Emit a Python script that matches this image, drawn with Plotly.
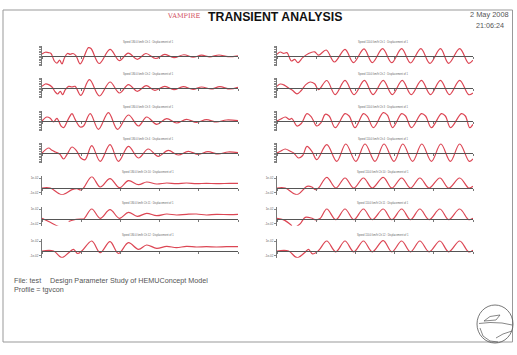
import plotly.graph_objects as go

# ---------------- data ----------------
L1_T = [0, 0.17, 0.34, 0.46, 0.63, 0.76, 0.9, 1.02, 1.15, 1.3, 1.44, 1.58, 1.73, 1.95, 2.37, 2.5, 2.92, 3.47, 3.95, 4.4, 4.86, 5.3, 5.8, 6.27, 6.73, 7.24, 7.71, 8.14, 8.56, 9.03, 9.49, 10]
L1_Y = [0.25, 0.45, 0.4, 0.3, -0.6, -0.85, -0.5, -0.95, -0.2, 0.3, 0.2, 0.3, 0.05, -0.95, 1.0, 0.9, -0.9, 0.8, -0.55, 0.35, -0.4, 0.3, -0.3, 0.2, -0.2, 0.15, -0.15, 0.1, -0.1, 0.12, -0.08, 0.02]

L2_T = [0, 0.17, 0.34, 0.51, 0.68, 0.8, 0.93, 1.05, 1.19, 1.36, 1.53, 1.69, 1.98, 2.42, 2.93, 3.47, 3.95, 4.41, 4.86, 5.31, 5.76, 6.27, 6.73, 7.2, 7.71, 8.14, 8.64, 9.07, 9.58, 10]
L2_Y = [0.2, 0.48, 0.4, 0.12, -0.48, -0.72, -0.4, -0.8, -0.2, 0.2, 0.12, 0.2, -0.88, 1.0, -0.96, 0.72, -0.6, 0.4, -0.4, 0.28, -0.28, 0.2, -0.2, 0.16, -0.16, 0.12, -0.12, 0.16, -0.12, 0.08]

L3_T = [0, 0.25, 0.42, 0.59, 0.76, 0.97, 1.1, 1.36, 1.53, 1.69, 1.95, 2.12, 2.46, 2.88, 3.39, 3.85, 4.41, 4.92, 5.34, 5.85, 6.36, 6.86, 7.37, 7.88, 8.39, 8.9, 9.41, 10]
L3_Y = [0, 0.48, 0.32, -0.12, 0.32, -0.6, -0.8, 0.32, 0.88, 0.2, -0.72, -0.6, 0.88, -1.0, 1.0, -1.0, 0.72, -0.6, 0.48, -0.4, 0.28, -0.24, 0.2, -0.16, 0.16, -0.12, 0.12, 0.04]

L4_T = [0, 0.34, 0.51, 0.68, 0.9, 1.1, 1.27, 1.53, 1.78, 1.98, 2.2, 2.54, 2.97, 3.47, 3.9, 4.41, 4.92, 5.42, 5.93, 6.44, 6.95, 7.46, 7.97, 8.47, 8.98, 9.49, 10]
L4_Y = [0, 0.6, 0.32, 0.12, -0.12, -0.72, -0.2, 0.72, 0.2, -0.6, -0.8, 0.88, -1.0, 1.0, -1.0, 0.8, -0.6, 0.48, -0.4, 0.32, -0.24, 0.2, -0.16, 0.16, -0.12, 0.12, 0.04]

L5_T = [0, 0.42, 1.02, 1.53, 1.78, 1.98, 2.12, 2.54, 2.97, 3.47, 3.95, 4.41, 4.92, 5.34, 5.85, 6.36, 6.86, 7.37, 7.88, 8.39, 8.9, 9.58, 10]
L5_Y = [0, 0, -0.8, -0.2, -0.08, -0.24, 0, 1.35, 0.12, 1.12, 0.04, 0.88, 0.4, 0.72, 0.48, 0.6, 0.52, 0.6, 0.52, 0.56, 0.52, 0.56, 0.56]

L6_T = [0, 0.42, 0.85, 1.02, 1.2, 1.36, 1.61, 1.95, 2.12, 2.54, 2.97, 3.47, 3.95, 4.41, 4.86, 5.34, 5.85, 6.36, 6.86, 7.37, 7.88, 8.39, 8.9, 9.58, 10]
L6_Y = [0.08, -0.4, -0.9, -1.0, None, -0.3, -0.1, 0, 0, 1.2, 0.08, 1.12, 0.08, 0.8, 0.32, 0.68, 0.4, 0.6, 0.48, 0.56, 0.6, 0.48, 0.56, 0.52, 0.56]

L7_T = [0, 0.59, 1.02, 1.36, 1.61, 1.81, 2.03, 2.54, 2.97, 3.47, 3.9, 4.41, 4.92, 5.34, 5.85, 6.36, 6.86, 7.37, 7.88, 8.39, 8.9, 9.41, 10]
L7_Y = [0, 0, -0.8, -0.2, 0.2, -0.3, 0, 1.2, -0.2, 1.12, -0.3, 1.0, 0.2, 0.72, 0.32, 0.56, 0.4, 0.56, 0.48, 0.52, 0.48, 0.52, 0.52]

R1_T = [0, 0.17, 0.34, 0.51, 0.73, 0.9, 1.07, 1.31, 1.61, 1.92, 2.12, 2.51, 2.93, 3.47, 3.9, 4.44, 4.86, 5.39, 5.85, 6.36, 6.81, 7.34, 7.8, 8.34, 8.76, 9.32, 9.78, 10]
R1_Y = [0.2, 0.48, 0.32, 0.4, -0.6, -0.4, -0.8, -0.2, 0.3, 0.5, 0.1, 0.72, -0.72, 0.8, -0.8, 0.85, -0.8, 0.88, -0.8, 0.88, -0.84, 0.88, -0.88, 0.88, -0.88, 0.88, -0.88, -0.5]

R2_T = [0, 0.17, 0.39, 0.59, 0.8, 1.02, 1.24, 1.47, 1.69, 1.92, 2.12, 2.54, 2.97, 3.47, 3.93, 4.46, 4.9, 5.42, 5.88, 6.39, 6.85, 7.37, 7.83, 8.34, 8.8, 9.32, 9.78, 10]
R2_Y = [0.2, 0.48, 0.32, 0.0, -0.3, -0.7, -0.3, 0.4, 0.72, 0.5, -0.2, 0.9, -0.8, 0.92, -0.8, 0.92, -0.8, 0.92, -0.8, 0.92, -0.8, 0.92, -0.8, 0.92, -0.8, 0.92, -0.8, -0.6]

R3_T = [0, 0.17, 0.42, 0.63, 0.76, 1.02, 1.24, 1.53, 1.75, 2.03, 2.25, 2.46, 2.66, 2.97, 3.47, 3.68, 3.98, 4.41, 4.61, 4.92, 5.42, 5.63, 5.9, 6.36, 6.56, 6.86, 7.37, 7.58, 7.88, 8.39, 8.59, 8.86, 9.41, 9.61, 9.83, 10]
R3_Y = [0, 0.2, 0.48, 0.2, 0.3, -0.6, -0.3, 0.88, 0.5, -0.6, -0.2, 0.8, 0.6, -0.8, 0.88, 0.6, -0.8, 0.88, 0.55, -0.8, 1.0, 0.7, -0.8, 0.88, 0.6, -0.8, 0.88, 0.6, -0.8, 0.88, 0.6, -0.8, 0.88, 0.6, -0.8, -0.4]

R4_T = [0, 0.17, 0.42, 0.68, 0.85, 1.1, 1.31, 1.53, 1.78, 2.03, 2.54, 3.05, 3.51, 4.02, 4.49, 5.0, 5.46, 5.97, 6.42, 6.92, 7.39, 7.88, 8.36, 8.85, 9.32, 9.81, 10]
R4_Y = [0, 0.2, 0.48, 0.2, 0.0, -0.6, -0.3, 0.8, 0.2, -0.8, 1.0, -1.0, 1.08, -1.0, 1.08, -1.0, 1.08, -1.0, 1.08, -1.0, 1.08, -1.0, 1.08, -1.0, 1.08, -1.0, -0.7]

R5_T = [0, 0.42, 1.02, 1.53, 1.78, 1.95, 2.12, 2.54, 3.0, 3.47, 3.92, 4.41, 4.86, 5.42, 5.86, 6.36, 6.81, 7.29, 7.76, 8.31, 8.76, 9.32, 9.78, 10]
R5_Y = [0, 0, -0.8, 0.2, 0.12, -0.2, 0, 1.28, 0, 1.2, 0, 1.2, 0, 1.28, 0, 1.2, 0, 1.2, 0, 1.2, 0, 1.2, 0, 0.2]

R6_T = [0, 0.34, 0.76, 0.86, 0.97, 1.19, 1.44, 1.75, 1.98, 2.2, 2.54, 3.0, 3.47, 3.92, 4.41, 4.86, 5.42, 5.86, 6.36, 6.81, 7.29, 7.76, 8.31, 8.76, 9.32, 9.78, 10]
R6_Y = [0.08, -0.1, -0.8, None, -0.95, -0.55, 0.2, 0.12, -0.1, 0.05, 1.2, -0.08, 1.2, -0.08, 1.2, -0.08, 1.2, -0.08, 1.2, -0.08, 1.2, -0.08, 1.2, -0.08, 1.2, -0.08, 0.1]

R7_T = [0, 0.59, 1.02, 1.41, 1.61, 1.81, 2.12, 2.54, 3.0, 3.47, 3.92, 4.41, 4.86, 5.42, 5.86, 6.36, 6.81, 7.29, 7.76, 8.31, 8.76, 9.32, 9.78, 10]
R7_Y = [0, 0, -0.8, -0.2, 0.2, -0.35, 0.05, 1.2, -0.1, 1.2, -0.1, 1.2, -0.1, 1.25, -0.1, 1.2, -0.1, 1.2, -0.1, 1.2, -0.1, 1.2, -0.1, 0.1]

LEFT_TITLES = ["Speed 180.0 km/h Ch 1 : Displacement of 1",
               "Speed 180.0 km/h Ch 2 : Displacement of 1",
               "Speed 180.0 km/h Ch 3 : Displacement of 1",
               "Speed 180.0 km/h Ch 4 : Displacement of 1",
               "Speed 180.0 km/h Ch 10 : Displacement of 1",
               "Speed 180.0 km/h Ch 11 : Displacement of 1",
               "Speed 180.0 km/h Ch 12 : Displacement of 1"]
RIGHT_TITLES = ["Speed 110.0 km/h Ch 1 : Displacement of 1",
                "Speed 110.0 km/h Ch 2 : Displacement of 1",
                "Speed 110.0 km/h Ch 3 : Displacement of 1",
                "Speed 110.0 km/h Ch 4 : Displacement of 1",
                "Speed 110.0 km/h Ch 10 : Displacement of 1",
                "Speed 110.0 km/h Ch 11 : Displacement of 1",
                "Speed 110.0 km/h Ch 12 : Displacement of 1"]

# ---------------- layout helpers ----------------
W, H = 517, 355
FONT = "Liberation Sans, Arial, sans-serif"
RED = "#dc4654"


def pxx(x):
    return x / W


def pxy(y):
    return 1 - y / H


series = [
    [(L1_T, L1_Y), (L2_T, L2_Y), (L3_T, L3_Y), (L4_T, L4_Y), (L5_T, L5_Y), (L6_T, L6_Y), (L7_T, L7_Y)],
    [(R1_T, R1_Y), (R2_T, R2_Y), (R3_T, R3_Y), (R4_T, R4_Y), (R5_T, R5_Y), (R6_T, R6_Y), (R7_T, R7_Y)],
]
titles = [LEFT_TITLES, RIGHT_TITLES]
row_centers = [56, 88, 121, 153, 188, 219, 251]
col_px = [(42, 238), (277, 473)]
SCALE = 8.33

fig = go.Figure()
layout = dict(width=W, height=H, margin=dict(l=0, r=0, t=0, b=0),
              paper_bgcolor="white", plot_bgcolor="white", showlegend=False,
              font=dict(family=FONT))
annotations = []
k = 0
for c in range(2):
    for r in range(7):
        k += 1
        xa = "x" if k == 1 else f"x{k}"
        ya = "y" if k == 1 else f"y{k}"
        cy = row_centers[r]
        if r < 4:
            ylo, yhi = -1.2, 1.2
        else:
            ylo, yhi = -0.8, 1.4
        top_px = cy - yhi * SCALE
        bot_px = cy - ylo * SCALE
        x0, x1 = col_px[c]
        layout["xaxis" if k == 1 else f"xaxis{k}"] = dict(
            domain=[pxx(x0), pxx(x1)], range=[0, 10], anchor="free", position=pxy(cy),
            showline=True, linecolor="#555", linewidth=0.8, ticks="outside", ticklen=2,
            tickcolor="#777", tickwidth=0.8, dtick=2, showticklabels=False,
            showgrid=False, zeroline=False, fixedrange=True)
        ycfg = dict(domain=[pxy(bot_px), pxy(top_px)], range=[ylo, yhi], anchor=xa,
                    showline=True, linecolor="#777", linewidth=1, ticks="outside",
                    ticklen=2, tickcolor="#888", tickwidth=0.6, showgrid=False,
                    zeroline=False, fixedrange=True)
        if r < 4:
            ycfg.update(dtick=0.2, showticklabels=False)
        else:
            ycfg.update(tickvals=[-0.6, 1.2], ticktext=["-1e-02", "1e-02"],
                        showticklabels=True, tickfont=dict(size=3, color="#666"))
        layout["yaxis" if k == 1 else f"yaxis{k}"] = ycfg
        t, y = series[c][r]
        fig.add_trace(go.Scatter(x=t, y=y, xaxis=xa, yaxis=ya, mode="lines",
                                 line=dict(color=RED, width=1.2, shape="spline", smoothing=1),
                                 connectgaps=False, hoverinfo="skip"))
        annotations.append(dict(xref="paper", yref="paper", x=pxx((x0 + x1) / 2 + 8),
                                y=pxy(top_px - 0.5), xanchor="center", yanchor="bottom",
                                text=titles[c][r], showarrow=False,
                                font=dict(size=2.6, color="#666")))

# header / footer texts
annotations += [
    dict(x=pxx(183), y=pxy(16), text="VAMPIRE", xanchor="center", yanchor="middle",
         font=dict(size=6.5, color="#d04a5a", family="DejaVu Serif")),
    dict(x=pxx(275), y=pxy(16.5), text="<b>TRANSIENT ANALYSIS</b>", xanchor="center",
         yanchor="middle", font=dict(size=12.3, color="#111")),
    dict(x=pxx(511), y=pxy(15), text="2 May 2008", xanchor="right", yanchor="middle",
         font=dict(size=7.4, color="#555")),
    dict(x=pxx(505.5), y=pxy(25), text="21:06:24", xanchor="right", yanchor="middle",
         font=dict(size=7.2, color="#555")),
    dict(x=pxx(12), y=pxy(280), text="File: test", xanchor="left", yanchor="middle",
         font=dict(size=7.2, color="#555")),
    dict(x=pxx(48), y=pxy(280), text="Design Parameter Study of HEMUConcept Model",
         xanchor="left", yanchor="middle", font=dict(size=7.2, color="#555")),
    dict(x=pxx(12), y=pxy(289.5), text="Profile = tgvcon", xanchor="left",
         yanchor="middle", font=dict(size=7.2, color="#555")),
]
for a in annotations[-7:]:
    a.update(xref="paper", yref="paper", showarrow=False)
layout["annotations"] = annotations


def path(pts, close=False):
    s = "M " + " L ".join(f"{pxx(x):.5f},{pxy(y):.5f}" for x, y in pts)
    return s + (" Z" if close else "")


shapes = [
    dict(type="rect", xref="paper", yref="paper", x0=pxx(3), x1=pxx(512.5),
         y0=pxy(342), y1=pxy(10), line=dict(color="#999", width=1)),
    dict(type="circle", xref="paper", yref="paper", x0=pxx(477), x1=pxx(513),
         y0=pxy(343), y1=pxy(305), line=dict(color="#555", width=0.8)),
    dict(type="path", xref="paper", yref="paper",
         path=path([(484, 321), (490, 316.5), (500, 315), (496, 320)], True),
         line=dict(color="#555", width=0.7)),
    dict(type="path", xref="paper", yref="paper",
         path=path([(479, 323.5), (490, 322.5), (502, 323), (512, 325)]),
         line=dict(color="#555", width=0.7)),
    dict(type="path", xref="paper", yref="paper",
         path=path([(480, 328), (483, 336), (490, 341), (498, 342)]),
         line=dict(color="#555", width=0.7)),
    dict(type="path", xref="paper", yref="paper",
         path=path([(496, 338), (503, 334), (512, 331)]),
         line=dict(color="#555", width=0.7)),
]
layout["shapes"] = shapes

fig.update_layout(**layout)
fig.write_html("out.html")
